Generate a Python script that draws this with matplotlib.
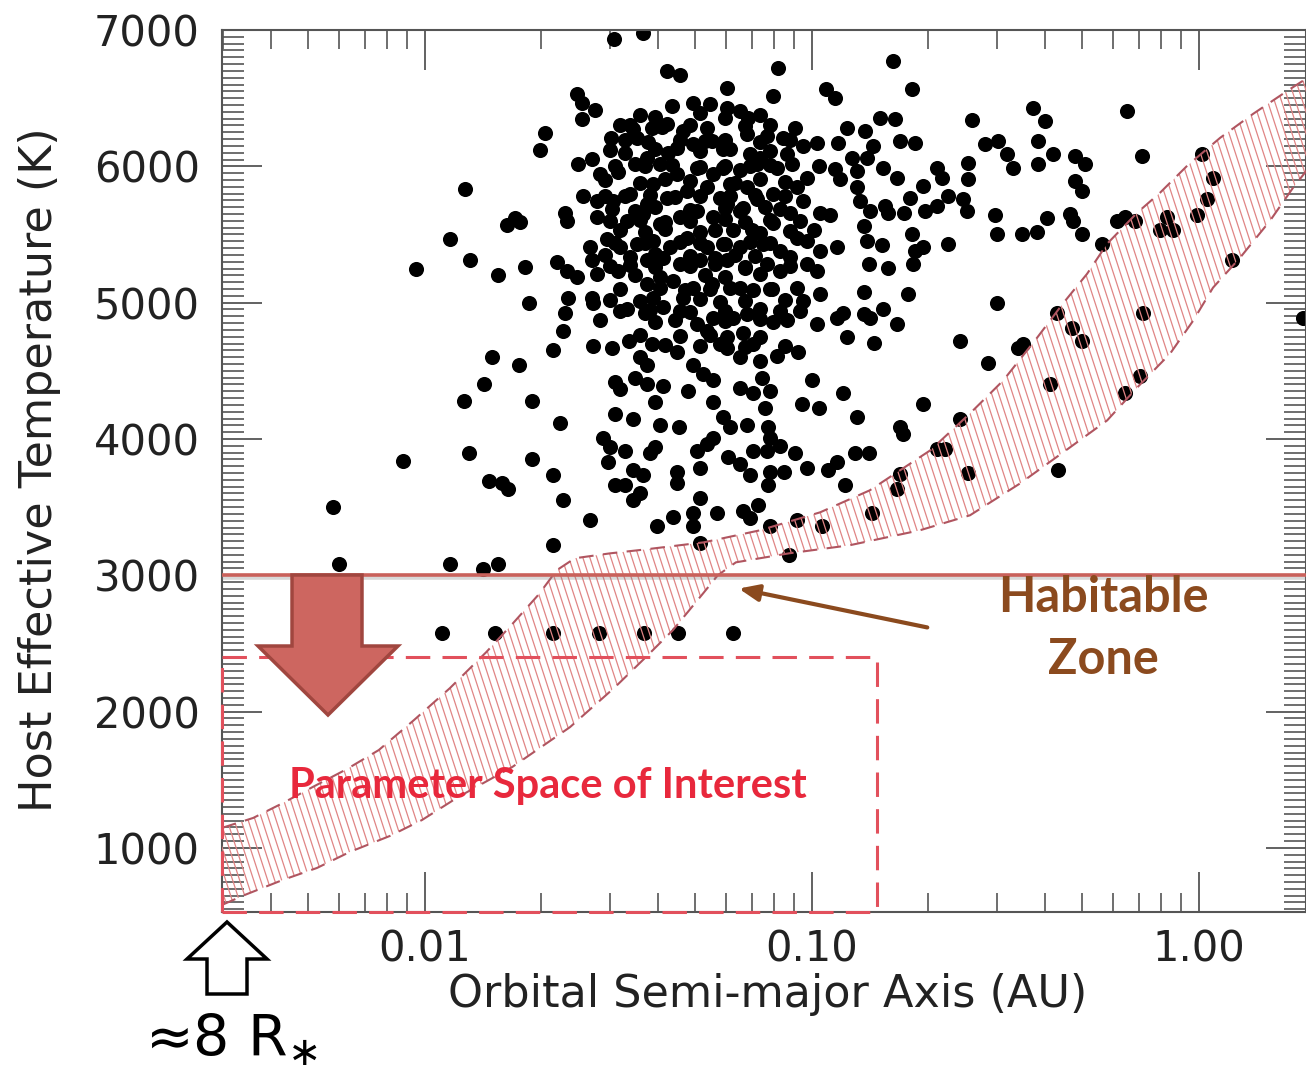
import numpy as np
import matplotlib.pyplot as plt
from matplotlib.patches import Polygon
from matplotlib.collections import LineCollection
from matplotlib.ticker import FixedLocator, FixedFormatter, LogLocator, NullFormatter, MultipleLocator
import matplotlib.patheffects as pe

# --- planets (semi-major axis in AU, host Teff in K) ---
a_left = [0.0127, 0.0171, 0.0163, 0.0176, 0.0116, 0.0131, 0.0095, 0.0154, 0.0181, 0.0186,
          0.0149, 0.0175, 0.0142, 0.0126, 0.0189, 0.0130, 0.0088, 0.0189, 0.0146, 0.0158,
          0.0164, 0.0058, 0.0060, 0.0116, 0.0141, 0.0154, 0.0111, 0.0152, 0.0214, 0.0282,
          0.0368, 0.0451, 0.0625, 0.0214, 0.0514, 0.0872]
t_left = [5830, 5620, 5570, 5590, 5470, 5315, 5250, 5200, 5265, 5000,
          4600, 4545, 4405, 4275, 4275, 3900, 3835, 3850, 3695, 3675,
          3630, 3500, 3080, 3080, 3045, 3080, 2575, 2575, 2575, 2575,
          2575, 2575, 2575, 3220, 3240, 3150]

a_core_hi = [0.0308, 0.0366, 0.0422, 0.0456, 0.0247, 0.0255, 0.0275, 0.0255, 0.0435, 0.0493,
             0.0545, 0.0204, 0.0198, 0.0302, 0.0319, 0.0345, 0.0353, 0.0386, 0.0422, 0.0464,
             0.0535, 0.0249, 0.0270, 0.0283, 0.0315, 0.0349, 0.0375, 0.0405, 0.0448, 0.0493,
             0.0552, 0.0388, 0.0448, 0.0504, 0.0555, 0.0256, 0.0278, 0.0306, 0.0339, 0.0375,
             0.0422, 0.0475, 0.0535, 0.0578, 0.0230, 0.0233, 0.0278, 0.0333, 0.0366, 0.0405,
             0.0456, 0.0504, 0.0555, 0.0295, 0.0319, 0.0353, 0.0388, 0.0430, 0.0475, 0.0535,
             0.0267, 0.0270, 0.0219, 0.0233, 0.0247, 0.0278, 0.0315, 0.0375, 0.0412, 0.0456,
             0.0514, 0.0375, 0.0437, 0.0493, 0.0552, 0.0234, 0.0270]
t_core_hi = [6935, 6980, 6700, 6670, 6530, 6465, 6415, 6350, 6445, 6465,
             6460, 6245, 6120, 6210, 6305, 6275, 6210, 6280, 6310, 6260,
             6280, 6020, 6055, 5945, 5955, 6020, 6060, 6020, 6135, 6165,
             6185, 5870, 5945, 5990, 5945, 5785, 5745, 5745, 5800, 5725,
             5770, 5820, 5845, 5770, 5660, 5600, 5625, 5600, 5650, 5580,
             5625, 5675, 5625, 5470, 5405, 5430, 5455, 5405, 5475, 5405,
             5405, 5310, 5295, 5235, 5185, 5210, 5235, 5310, 5330, 5285,
             5310, 5140, 5160, 5110, 5140, 5035, 5035]

# extra planets packed into the crowded core (two passes)
a_core_fill = [0.0359, 0.0393, 0.0514, 0.0596, 0.0734,
               0.0301, 0.0329, 0.0393, 0.0425, 0.0514, 0.0614, 0.0692, 0.0779,
               0.0292, 0.0359, 0.0417, 0.0484, 0.0632, 0.0734, 0.0852,
               0.0304, 0.0349, 0.0393, 0.0484, 0.0596, 0.0652, 0.0756, 0.0827,
               0.0319, 0.0370, 0.0417, 0.0514, 0.0562, 0.0734, 0.0877,
               0.0292, 0.0339, 0.0393, 0.0484, 0.0562, 0.0632, 0.0713, 0.0877,
               0.0349, 0.0405, 0.0529, 0.0596, 0.0734,
               0.0301, 0.0359, 0.0514, 0.0578, 0.0671, 0.0852,
               0.0283, 0.0393, 0.0442, 0.0596, 0.0734,
               0.0417, 0.0514, 0.0578, 0.0671, 0.0852]
t_core_fill = [6380, 6360, 6390, 6355, 6375,
               6120, 6100, 6130, 6095, 6110, 6125, 6090, 6115,
               5900, 5880, 5905, 5890, 5875, 5910, 5885,
               5690, 5675, 5700, 5680, 5695, 5670, 5705, 5685,
               5530, 5515, 5540, 5520, 5535, 5510, 5525,
               5350, 5335, 5355, 5340, 5330, 5350, 5345, 5335,
               5200, 5185, 5205, 5190, 5210,
               5020, 5010, 5025, 5005, 5015, 5020,
               4870, 4860, 4875, 4865, 4880,
               4690, 4680, 4695, 4675, 4685]

a_core_fill2 = [0.0339, 0.0410, 0.0484, 0.0671, 0.0779,
                0.0329, 0.0377, 0.0456, 0.0529, 0.0596, 0.0734, 0.0877,
                0.0310, 0.0370, 0.0434, 0.0514, 0.0596, 0.0692, 0.0779,
                0.0292, 0.0329, 0.0381, 0.0442, 0.0514, 0.0614, 0.0713, 0.0852,
                0.0301, 0.0359, 0.0417, 0.0484, 0.0596, 0.0671, 0.0779, 0.0931,
                0.0310, 0.0370, 0.0456, 0.0514, 0.0596, 0.0692, 0.0779,
                0.0301, 0.0339, 0.0393, 0.0484, 0.0562, 0.0671, 0.0877,
                0.0319, 0.0405, 0.0470, 0.0545, 0.0652, 0.0779,
                0.0319, 0.0381, 0.0484, 0.0596, 0.0734, 0.0827,
                0.0359, 0.0456, 0.0545, 0.0734]
t_core_fill2 = [6300, 6290, 6305, 6295, 6300,
                6190, 6180, 6195, 6185, 6190, 6180, 6195,
                6005, 6000, 6010, 5995, 6005, 6000, 6010,
                5785, 5780, 5790, 5775, 5785, 5780, 5790, 5780,
                5600, 5605, 5595, 5600, 5610, 5595, 5605, 5600,
                5440, 5435, 5445, 5440, 5430, 5445, 5440,
                5270, 5275, 5265, 5270, 5280, 5265, 5270,
                5100, 5105, 5095, 5100, 5110, 5100,
                4940, 4945, 4935, 4940, 4950, 4940,
                4760, 4755, 4765, 4750]

a_core_lo = [0.0230, 0.0272, 0.0333, 0.0370, 0.0388, 0.0412, 0.0456, 0.0464, 0.0504, 0.0535,
             0.0555, 0.0227, 0.0214, 0.0272, 0.0304, 0.0337, 0.0386, 0.0359, 0.0375, 0.0448,
             0.0493, 0.0523, 0.0555, 0.0310, 0.0319, 0.0349, 0.0375, 0.0412, 0.0478, 0.0393,
             0.0555, 0.0223, 0.0310, 0.0345, 0.0405, 0.0453, 0.0288, 0.0301, 0.0329, 0.0381,
             0.0393, 0.0504, 0.0535, 0.0555, 0.0297, 0.0345, 0.0366, 0.0448, 0.0514, 0.0214,
             0.0310, 0.0329, 0.0359, 0.0345, 0.0448, 0.0514, 0.0227, 0.0493, 0.0568, 0.0437,
             0.0398, 0.0493, 0.0267]
t_core_lo = [4925, 5000, 4955, 4925, 5035, 4965, 4940, 5035, 4845, 4795,
             4890, 4795, 4650, 4685, 4670, 4720, 4700, 4600, 4540, 4635,
             4540, 4480, 4430, 4415, 4370, 4450, 4405, 4390, 4355, 4270,
             4270, 4115, 4185, 4150, 4100, 4085, 4010, 3940, 3915, 3900,
             3940, 3915, 3965, 4010, 3830, 3770, 3735, 3755, 3790, 3735,
             3660, 3660, 3600, 3550, 3675, 3570, 3550, 3460, 3460, 3425,
             3365, 3365, 3405]

a_mid_hi = [0.0817, 0.162, 0.0603, 0.0793, 0.109, 0.115, 0.181, 0.0603, 0.0652, 0.0683,
            0.0679, 0.0765, 0.0841, 0.0904, 0.103, 0.123, 0.137, 0.150, 0.164, 0.169,
            0.185, 0.117, 0.144, 0.0589, 0.0734, 0.0862, 0.0948, 0.127, 0.139, 0.0589,
            0.0652, 0.0721, 0.0812, 0.0888, 0.104, 0.115, 0.131, 0.153, 0.166, 0.0614,
            0.0679, 0.0793, 0.0915, 0.0971, 0.118, 0.131, 0.0603, 0.0663, 0.0721, 0.0877,
            0.0948, 0.105, 0.111, 0.133, 0.141, 0.154, 0.157, 0.179, 0.173, 0.0625,
            0.0700, 0.0793, 0.0915, 0.101, 0.136, 0.139, 0.181, 0.0589, 0.0652, 0.0747,
            0.0827, 0.0971, 0.105, 0.116, 0.152, 0.185, 0.0603, 0.0671, 0.0765, 0.0827,
            0.0971, 0.103, 0.140, 0.157, 0.182, 0.0614, 0.0704, 0.0788, 0.0915, 0.136,
            0.177]
t_mid_hi = [6720, 6775, 6575, 6515, 6570, 6500, 6570, 6430, 6405, 6355,
            6240, 6225, 6210, 6280, 6170, 6280, 6260, 6355, 6350, 6185,
            6170, 6170, 6150, 6130, 6060, 6090, 6150, 6060, 6060, 5990,
            5970, 6020, 5990, 6020, 6005, 5980, 5965, 5990, 5915, 5870,
            5845, 5800, 5845, 5915, 5910, 5845, 5725, 5695, 5760, 5660,
            5745, 5660, 5640, 5745, 5675, 5710, 5660, 5770, 5660, 5530,
            5530, 5585, 5475, 5530, 5565, 5455, 5505, 5430, 5405, 5430,
            5380, 5455, 5380, 5405, 5420, 5380, 5310, 5255, 5285, 5235,
            5285, 5235, 5285, 5255, 5285, 5110, 5090, 5100, 5110, 5075,
            5065]

a_mid_lo = [0.0948, 0.105, 0.0625, 0.0679, 0.0793, 0.0862, 0.0931, 0.103, 0.116, 0.120,
            0.136, 0.141, 0.153, 0.166, 0.123, 0.145, 0.0603, 0.0663, 0.0704, 0.0603,
            0.0652, 0.0734, 0.0812, 0.0920, 0.0743, 0.100, 0.0652, 0.0704, 0.0779, 0.0756,
            0.0942, 0.104, 0.120, 0.0589, 0.0679, 0.0770, 0.131, 0.169, 0.172, 0.0614,
            0.0779, 0.0704, 0.0765, 0.0827, 0.0904, 0.129, 0.140, 0.0607, 0.0652, 0.0692,
            0.0779, 0.0849, 0.0770, 0.0971, 0.110, 0.116, 0.122, 0.169, 0.166, 0.0663,
            0.0725, 0.0692, 0.0779, 0.0915, 0.106, 0.143]
t_mid_lo = [5015, 5065, 4890, 4920, 4855, 4870, 4940, 4845, 4890, 4925,
            4920, 4890, 4955, 4845, 4745, 4705, 4745, 4775, 4700, 4665,
            4600, 4575, 4610, 4635, 4445, 4430, 4375, 4335, 4355, 4230,
            4260, 4230, 4335, 4160, 4100, 4085, 4160, 4085, 4040, 4085,
            4010, 3915, 3915, 3950, 3900, 3900, 3900, 3865, 3820, 3735,
            3755, 3755, 3660, 3790, 3770, 3830, 3660, 3745, 3635, 3475,
            3515, 3420, 3365, 3405, 3365, 3460]

a_right = [0.259, 0.373, 0.400, 0.652, 0.280, 0.303, 0.319, 0.331, 0.384, 0.420,
           0.384, 0.478, 0.508, 0.713, 0.210, 0.253, 0.253, 0.194, 0.217, 0.225,
           0.246, 0.252, 0.210, 0.196, 0.478, 0.499, 0.297, 0.300, 0.349, 0.382,
           0.405, 0.464, 0.473, 0.499, 0.225, 0.194, 0.614, 0.644, 0.683, 0.562,
           0.827, 0.793, 0.857, 0.988, 1.05, 1.09, 1.02, 1.22, 0.300, 0.430,
           0.717, 0.241, 0.470, 0.499, 0.351, 0.341, 0.285, 0.704, 0.644, 0.412,
           0.194, 0.241, 0.210, 0.221, 0.253, 0.432, 1.86]
t_right = [6340, 6430, 6335, 6405, 6165, 6185, 6090, 5990, 6185, 6090,
           6020, 6075, 6020, 6075, 5990, 6025, 5910, 5855, 5915, 5785,
           5760, 5675, 5710, 5675, 5895, 5820, 5640, 5505, 5505, 5515,
           5620, 5650, 5600, 5505, 5430, 5405, 5600, 5625, 5600, 5430,
           5625, 5530, 5530, 5645, 5760, 5915, 6090, 5310, 5000, 4925,
           4925, 4720, 4815, 4720, 4700, 4665, 4560, 4465, 4340, 4405,
           4260, 4150, 3930, 3930, 3750, 3770, 4890]

# --- habitable zone edges ---
hz_inner_au = [0.00299, 0.00360, 0.00430, 0.00513, 0.00629, 0.00760, 0.00937, 0.0116, 0.0144, 0.0168,
               0.0197, 0.0219, 0.0244, 0.0301, 0.0372, 0.0526, 0.0734, 0.105, 0.141, 0.202,
               0.256, 0.312, 0.382, 0.445, 0.514, 0.579, 0.692, 0.793, 0.932, 1.134,
               1.38, 1.69, 1.94]
hz_inner_teff = [1147, 1220, 1330, 1447, 1579, 1718, 1938, 2172, 2436, 2641,
                 2861, 3037, 3125, 3161, 3190, 3242, 3330, 3462, 3623, 3916,
                 4187, 4429, 4744, 4993, 5212, 5432, 5659, 5806, 6004, 6209,
                 6385, 6553, 6663]
hz_outer_au = [0.00299, 0.00343, 0.00430, 0.00526, 0.00640, 0.00812, 0.00983, 0.0122, 0.0168, 0.0237,
               0.0310, 0.0372, 0.0437, 0.0526, 0.0571, 0.0636, 0.0872, 0.125, 0.190, 0.256,
               0.345, 0.464, 0.579, 0.692, 0.842, 0.966, 1.087, 1.277, 1.526, 1.75,
               1.94]
hz_outer_teff = [582, 656, 766, 853, 971, 1088, 1205, 1374, 1593, 1886,
                 2180, 2399, 2597, 2875, 3000, 3095, 3161, 3220, 3330, 3440,
                 3674, 3938, 4136, 4377, 4626, 4868, 5110, 5330, 5601, 5843,
                 6004]

teff_cut = 3000
box_au = 0.147
box_teff = 2400

W, H = 1306, 1071


def fxy(px, py):
    # image pixel -> figure fraction
    return px / W, 1 - py / H


fig = plt.figure(figsize=(W / 100, H / 100), dpi=100)
ax = fig.add_axes([222 / W, (H - 912) / H, (W - 222) / W, (912 - 30) / H])

a_all = np.concatenate([a_left, a_core_hi, a_core_fill, a_core_fill2, a_core_lo, a_mid_hi, a_mid_lo, a_right])
t_all = np.concatenate([t_left, t_core_hi, t_core_fill, t_core_fill2, t_core_lo, t_mid_hi, t_mid_lo, t_right])
ax.scatter(a_all, t_all, s=118, color='black', linewidths=0, zorder=2)

# habitable zone band with hand-made steep hatching
verts = np.column_stack([np.r_[hz_inner_au, hz_outer_au[::-1]],
                         np.r_[hz_inner_teff, hz_outer_teff[::-1]]])
band = Polygon(verts, closed=True, facecolor='none', edgecolor='none', transform=ax.transData)
ax.add_patch(band)
aw, ah = W - 222, 912 - 30
shift = ah / np.tan(np.deg2rad(72))
segs = [[(x0 / aw, 1.0), ((x0 + shift) / aw, 0.0)] for x0 in np.arange(-shift, aw + 8, 7.0)]
lc = LineCollection(segs, colors='#e08585', linewidths=0.9, transform=ax.transAxes, zorder=3)
lc.set_clip_path(band)
ax.add_collection(lc, autolim=False)
ax.plot(hz_inner_au, hz_inner_teff, color='#b05560', lw=1.5, dashes=(7, 4.5), zorder=4)
ax.plot(hz_outer_au, hz_outer_teff, color='#b05560', lw=1.5, dashes=(7, 4.5), zorder=4)

# 3000 K cut
ax.axhline(teff_cut, color='#c9615b', lw=2.6, zorder=5,
           path_effects=[pe.SimpleLineShadow(offset=(0, -2), shadow_color='gray', alpha=0.3), pe.Normal()])

# parameter space box
x_lo, y_lo = 0.00299, 530
ax.plot([x_lo, box_au, box_au], [box_teff, box_teff, y_lo], color='#e2505c', lw=2.2,
        dashes=(8, 4), zorder=4, clip_on=False)
ax.plot([x_lo, x_lo], [y_lo, box_teff], color='#e2505c', lw=2.2, dashes=(8, 4), zorder=6, clip_on=False)
ax.plot([x_lo, box_au], [y_lo, y_lo], color='#e2505c', lw=2.2, dashes=(8, 4), zorder=6, clip_on=False)

ax.set_xscale('log')
ax.set_xlim(0.00299, 1.89)
ax.set_ylim(530, 7000)
ax.xaxis.set_major_locator(FixedLocator([0.01, 0.1, 1.0]))
ax.xaxis.set_major_formatter(FixedFormatter(['0.01', '0.10', '1.00']))
ax.xaxis.set_minor_locator(LogLocator(base=10, subs=np.arange(2, 10)))
ax.xaxis.set_minor_formatter(NullFormatter())
ax.yaxis.set_major_locator(MultipleLocator(1000))
ax.yaxis.set_minor_locator(MultipleLocator(50))

ax.tick_params(which='both', direction='in', top=True, right=True, colors='#555555', labelcolor='#222222')
ax.tick_params(which='major', length=29, width=1.3, labelsize=30)
ax.tick_params(axis='x', which='major', pad=12)
ax.tick_params(axis='y', which='major', pad=16)
ax.tick_params(axis='x', which='minor', length=14, width=1.2)
ax.tick_params(axis='y', which='minor', length=16, width=1.2)
for s in ax.spines.values():
    s.set_color('#555555')
    s.set_linewidth(1.5)

fig.text(*fxy(768, 995), 'Orbital Semi-major Axis (AU)', ha='center', va='center', fontsize=32, color='#222222')
fig.text(*fxy(40, 470), 'Host Effective Temperature (K)', ha='center', va='center', rotation=90,
         fontsize=32, color='#222222')

# annotations
arrow = [(292, 575), (362, 575), (362, 646), (398, 646), (328, 715), (258, 646), (292, 646)]
fig.add_artist(Polygon([fxy(*p) for p in arrow], closed=True, facecolor='#cd6660', edgecolor='#a0463f',
                       lw=2.5, transform=fig.transFigure, zorder=5))
up = [(227, 922), (267, 959), (247, 959), (247, 994), (207, 994), (207, 959), (187, 959)]
fig.add_artist(Polygon([fxy(*p) for p in up], closed=True, facecolor='white', edgecolor='black',
                       lw=2.5, transform=fig.transFigure, zorder=5))

fig.text(*fxy(548, 786), 'Parameter Space of Interest', ha='center', va='center', fontsize=30,
         fontweight='bold', family='Lato', color='#e8283c', zorder=6)
fig.text(*fxy(1103, 598), 'Habitable', ha='center', va='center', fontsize=35, fontweight='bold',
         family='Lato', color='#8b4a1e')
fig.text(*fxy(1103, 660), 'Zone', ha='center', va='center', fontsize=35, fontweight='bold',
         family='Lato', color='#8b4a1e')
fig.add_artist(plt.Annotation('', xy=fxy(736, 588), xytext=fxy(930, 628), xycoords='figure fraction',
                              textcoords='figure fraction',
                              arrowprops=dict(arrowstyle='-|>,head_length=1.2,head_width=0.5',
                                              color='#8b4a1e', lw=3)))
fig.text(*fxy(145, 1069), r'≈8 R$_{\ast}$', ha='left', va='bottom', fontsize=41, color='black')

fig.savefig('out.png', dpi=100)
